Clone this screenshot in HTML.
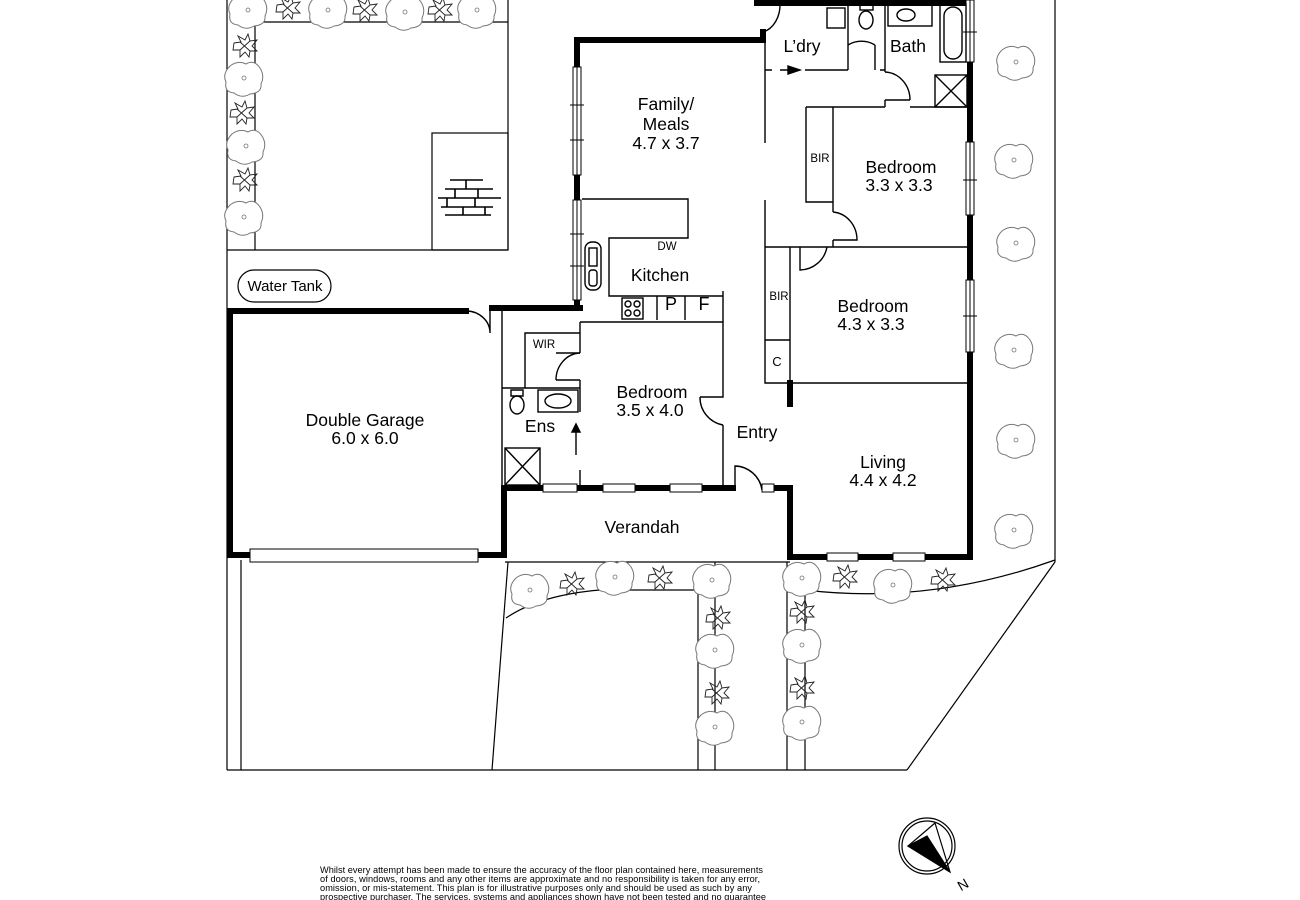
<!DOCTYPE html>
<html><head><meta charset="utf-8"><style>
html,body{margin:0;padding:0;background:#fff}
svg{display:block}
text{font-family:"Liberation Sans",Arial,sans-serif;fill:#000}
</style></head><body>
<svg width="1300" height="900" viewBox="0 0 1300 900" xmlns="http://www.w3.org/2000/svg">
<defs>
<g id="tree"><path d="M-14,-12 Q-6,-18 2,-14 Q10,-19 16,-10 Q21,-2 17,6 Q18,15 6,16 Q-2,21 -10,15 Q-20,14 -18,4 Q-22,-4 -14,-12Z" fill="#fff" stroke="#777" stroke-width="1"/><circle r="2" fill="none" stroke="#777" stroke-width="0.8"/></g>
<g id="shrub" stroke="#222" stroke-width="0.9" fill="none"><path d="M-11,-3 L-4,-4 L-7,-10 L0,-6 L3,-12 L5,-5 L12,-6 L7,0 L12,5 L5,5 L4,11 L0,6 L-5,11 L-5,4 L-12,4 Z"/><path d="M-5,-4 L5,5 M5,-5 L-5,4"/></g>
</defs>
<g stroke="#000" fill="none" stroke-width="1.2">
<line x1="227" y1="0" x2="227" y2="770"/>
<line x1="255" y1="22" x2="255" y2="250"/>
<line x1="255" y1="22" x2="508" y2="22"/>
<line x1="508" y1="0" x2="508" y2="250"/>
<line x1="227" y1="250" x2="508" y2="250"/>
<rect x="432" y="133" width="76" height="117"/>
<path d="M450,180h33M466,180v9M445,189h48M455,189v9M478,189v9M438,198h63M447,198v9M475,198v9M441,207h52M463,207v8M485,207v8M445,215h46" stroke-width="1.6"/>
<rect x="238" y="270" width="93" height="32" rx="16"/>
<line x1="241" y1="560" x2="241" y2="770"/>
<line x1="227" y1="770" x2="907" y2="770"/>
<line x1="508" y1="562" x2="492" y2="770"/>
<line x1="698" y1="590" x2="698" y2="770"/>
<line x1="715" y1="562" x2="715" y2="770"/>
<line x1="787" y1="562" x2="787" y2="770"/>
<line x1="805" y1="590" x2="805" y2="770"/>
<path d="M506,618 Q540,595 600,590 L698,590"/>
<path d="M805,590 Q930,605 1055,560"/>
<line x1="1055" y1="0" x2="1055" y2="562"/>
<line x1="1055" y1="562" x2="907" y2="770"/>
<line x1="505" y1="562" x2="790" y2="562"/>
</g>
<g stroke="#000" fill="none" stroke-width="6" stroke-linecap="square">
<path d="M230,311 H466"/>
<path d="M492,308 H580"/>
<path d="M230,311 V555 H250"/>
<path d="M478,555 H504 V488 H543"/>
<path d="M577,488 H603 M635,488 H670 M702,488 H733"/>
<path d="M774,488 H790 V557 H827 M858,557 H893 M925,557 H970 V352"/>
<path d="M970,280 V215 M970,142 V62 M970,0 V2"/>
<path d="M577,40 V67 M577,175 V200 M577,300 V308"/>
<path d="M577,40 H763"/>
<path d="M757,3 H970"/>
<path d="M790,383 V404"/>
<path d="M763,32 V40"/>
</g>
<g stroke="#000" stroke-width="1" fill="#fff">
<rect x="573" y="67" width="8" height="108"/><line x1="577" y1="67" x2="577" y2="175"/>
<rect x="573" y="200" width="8" height="100"/><line x1="577" y1="200" x2="577" y2="300"/>
<line x1="570" y1="105" x2="584" y2="105"/><line x1="570" y1="140" x2="584" y2="140"/><line x1="570" y1="234" x2="584" y2="234"/><line x1="570" y1="266" x2="584" y2="266"/>
<rect x="966" y="0" width="8" height="62"/><line x1="970" y1="0" x2="970" y2="62"/><line x1="963" y1="32" x2="977" y2="32"/>
<rect x="966" y="142" width="8" height="73"/><line x1="970" y1="142" x2="970" y2="215"/><line x1="963" y1="180" x2="977" y2="180"/>
<rect x="966" y="280" width="8" height="72"/><line x1="970" y1="280" x2="970" y2="352"/><line x1="963" y1="316" x2="977" y2="316"/>
<rect x="543" y="484" width="34" height="8"/><rect x="603" y="484" width="32" height="8"/><rect x="670" y="484" width="32" height="8"/>
<rect x="762" y="484" width="12" height="8"/>
<rect x="827" y="553" width="31" height="8"/><rect x="893" y="553" width="32" height="8"/>
<rect x="250" y="549" width="228" height="13"/>
</g>
<g stroke="#000" fill="none" stroke-width="1.4">
<path d="M502,311 V485"/>
<path d="M580,322 V353 M580,380 V412 M580,470 V487"/>
<path d="M502,388 H580"/>
<path d="M525,388 V333 H580"/>
<path d="M556,353 H580 M556,380 H580"/>
<path d="M556,380 A25,27 0 0 1 580,353"/>
<rect x="505" y="448" width="35" height="37"/><path d="M505,448 L540,485 M540,448 L505,485"/>
<rect x="538" y="390" width="40" height="22"/><ellipse cx="558" cy="401" rx="13" ry="7"/>
<path d="M511,390 h12 v6 h-12z"/><ellipse cx="517" cy="405" rx="7" ry="9"/>
<path d="M576,455 V430"/><path d="M572,432 L576,424 L580,432Z" fill="#000"/>
<path d="M580,322 H723 V397 H700 M723,425 V487"/>
<path d="M700,397 A28,28 0 0 0 723,425"/>
<path d="M582,199 H688 V238 H609 V296 H723"/>
<path d="M723,291 V322"/>
<rect x="622" y="298" width="21" height="21"/>
<circle cx="628" cy="304" r="3"/><circle cx="637" cy="304" r="3"/><circle cx="628" cy="313" r="3"/><circle cx="637" cy="313" r="3"/>
<path d="M657,296 V320 M685,296 V320"/>
<rect x="585" y="242" width="16" height="48" rx="7"/><rect x="589" y="248" width="8" height="18"/><rect x="589" y="270" width="8" height="16" rx="3"/>
<path d="M765,40 V143 M765,200 V383 H970"/>
<path d="M765,247 H970"/>
<path d="M790,247 V383"/>
<path d="M765,340 H790"/>
<path d="M800,247 V270 A28,28 0 0 0 827,247"/>
<path d="M833,107 V212 M806,107 V202 H833 M833,240 V247 M833,240 H857 A26,28 0 0 0 833,212"/>
<path d="M806,107 H885 M910,100 H885 M910,107 H970"/>
<path d="M885,0 V72 M885,72 A26,28 0 0 1 910,100 M885,100 V107"/>
<path d="M848,0 V70 M805,70 H848 M848,45 A26,26 0 0 1 875,45 M875,45 V70 M880,70 H885"/>
<path d="M765,70 H772 M780,70 H788"/><path d="M788,66 L800,70 L788,74Z" fill="#000"/>
<path d="M763,32 A22,28 0 0 0 780,3"/>
<rect x="827" y="8" width="18" height="20"/>
<ellipse cx="866" cy="20" rx="7" ry="9"/><rect x="860" y="4" width="13" height="6"/>
<rect x="888" y="4" width="44" height="22"/><ellipse cx="906" cy="15" rx="9" ry="6"/>
<rect x="940" y="4" width="26" height="58"/><rect x="944" y="7" width="18" height="52" rx="9"/>
<rect x="935" y="75" width="32" height="32"/><path d="M935,75 L967,107 M967,75 L935,107"/>
<path d="M735,488 V466 A28,28 0 0 1 762,490"/>
<path d="M466,311 A24,22 0 0 1 490,333 V311"/>
</g>
<g>
<use href="#tree" x="248" y="10"/><use href="#shrub" x="288" y="8"/><use href="#tree" x="328" y="10"/><use href="#shrub" x="365" y="10"/><use href="#tree" x="405" y="12"/><use href="#shrub" x="440" y="10"/><use href="#tree" x="477" y="10"/>
<use href="#shrub" x="245" y="46"/><use href="#tree" x="244" y="78"/><use href="#shrub" x="242" y="113"/><use href="#tree" x="246" y="146"/><use href="#shrub" x="245" y="180"/><use href="#tree" x="244" y="217"/>
<use href="#tree" x="1016" y="62"/><use href="#tree" x="1014" y="160"/><use href="#tree" x="1016" y="243"/><use href="#tree" x="1014" y="350"/><use href="#tree" x="1016" y="440"/><use href="#tree" x="1014" y="530"/>
<use href="#tree" x="530" y="590"/><use href="#shrub" x="572" y="584"/><use href="#tree" x="615" y="577"/><use href="#shrub" x="660" y="578"/><use href="#tree" x="712" y="580"/>
<use href="#shrub" x="718" y="618"/><use href="#tree" x="715" y="650"/><use href="#shrub" x="717" y="693"/><use href="#tree" x="715" y="727"/>
<use href="#tree" x="802" y="578"/><use href="#shrub" x="845" y="577"/><use href="#tree" x="893" y="585"/><use href="#shrub" x="943" y="580"/>
<use href="#shrub" x="802" y="612"/><use href="#tree" x="802" y="645"/><use href="#shrub" x="802" y="688"/><use href="#tree" x="802" y="722"/>
</g>
<g font-size="17.5" text-anchor="middle">
<text x="666" y="110">Family/</text><text x="666" y="130">Meals</text><text x="666" y="149">4.7 x 3.7</text>
<text x="901" y="173">Bedroom</text><text x="899" y="191">3.3 x 3.3</text>
<text x="873" y="312">Bedroom</text><text x="871" y="330">4.3 x 3.3</text>
<text x="652" y="398">Bedroom</text><text x="650" y="416">3.5 x 4.0</text>
<text x="660" y="281">Kitchen</text>
<text x="802" y="52">L’dry</text><text x="908" y="52">Bath</text>
<text x="757" y="438">Entry</text>
<text x="883" y="468">Living</text><text x="883" y="486">4.4 x 4.2</text>
<text x="642" y="533">Verandah</text>
<text x="365" y="426">Double Garage</text><text x="365" y="444">6.0 x 6.0</text>
<text x="540" y="432">Ens</text>
<text x="285" y="291" font-size="15">Water Tank</text>
<text x="671" y="310" font-size="18">P</text><text x="704" y="310" font-size="18">F</text>
</g>
<g font-size="11.5" text-anchor="middle">
<text x="667" y="250">DW</text><text x="820" y="162">BIR</text><text x="779" y="300">BIR</text><text x="544" y="348">WIR</text><text x="777" y="366" font-size="13">C</text>
</g>
<g stroke="#000" fill="none" stroke-width="1.2">
<circle cx="927" cy="846" r="28"/><circle cx="927" cy="846" r="25"/>
<path d="M935,823 L908,846 L950,872 Z"/><path d="M908,846 L927,836 L950,872 Z" fill="#000"/>
</g>
<text x="958" y="890" font-size="14" transform="rotate(-30 962 885)">N</text>
<g font-size="9.2">
<text x="320" y="873" textLength="443">Whilst every attempt has been made to ensure the accuracy of the floor plan contained here, measurements</text>
<text x="320" y="882" textLength="440">of doors, windows, rooms and any other items are approximate and no responsibility is taken for any error,</text>
<text x="320" y="891" textLength="432">omission, or mis-statement.  This plan is for illustrative purposes only and should be used as such by any</text>
<text x="320" y="900" textLength="446">prospective purchaser.  The services, systems and appliances shown have not been tested and no guarantee</text>
</g>
</svg>
</body></html>
